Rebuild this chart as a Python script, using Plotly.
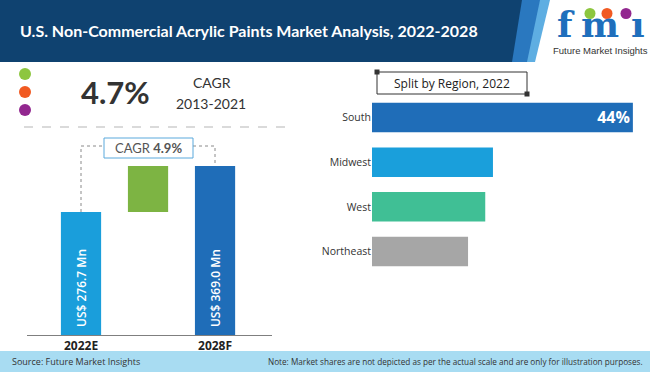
import plotly.graph_objects as go

# ---------------- data ----------------
years = ["2022E", "2028F"]
market_values = [276.7, 369.0]          # US$ Mn
value_labels = ["US$ 276.7 Mn", "US$ 369.0 Mn"]
cagr_forecast = "4.9%"
cagr_hist = "4.7%"
hist_period = "2013-2021"

regions = ["South", "Midwest", "West", "Northeast"]
region_shares = [44.0, 20.4, 19.1, 16.2]  # % (2022)
region_colors = ["#1f6db8", "#1a9fdb", "#40bf95", "#a6a6a6"]

title_text = "U.S. Non-Commercial Acrylic Paints Market Analysis, 2022-2028"
source_text = "Source: Future Market Insights"
note_text = ("Note: Market shares are not depicted as per the actual scale and are "
             "only for illustration purposes.")

# ---------------- helpers (pixel -> paper) ----------------
W, H = 650, 372
def px(x):
    return x / W
def py(y):
    return 1 - y / H

fig = go.Figure()

# left: market value bars
pos = [0, 2]
fig.add_trace(go.Bar(
    x=pos, y=market_values, width=0.6,
    marker=dict(color=["#1a9edb", "#1f6db8"], line=dict(width=0)),
    xaxis="x", yaxis="y", hoverinfo="skip", showlegend=False))
# incremental (green) bar between the two years
fig.add_trace(go.Bar(
    x=[1], y=[market_values[1] - market_values[0]], base=[market_values[0]],
    width=0.6, marker=dict(color="#7db443", line=dict(width=0)),
    xaxis="x", yaxis="y", hoverinfo="skip", showlegend=False))

# right: region split
fig.add_trace(go.Bar(
    y=regions, x=region_shares, orientation="h", width=0.66,
    marker=dict(color=region_colors, line=dict(width=0)),
    text=[f"{region_shares[0]:g}%"] + [""] * (len(regions) - 1),
    textposition="inside", insidetextanchor="end",
    textfont=dict(color="white", size=16, family="Open Sans", weight=700),
    xaxis="x2", yaxis="y2", hoverinfo="skip", showlegend=False))

shapes = []
# header band
shapes.append(dict(type="rect", xref="paper", yref="paper", x0=0, x1=1,
                   y0=py(62), y1=1, fillcolor="#0f4270", line=dict(width=0), layer="below"))
# blue stripes + white logo area
shapes.append(dict(type="path", xref="paper", yref="paper",
                   path=f"M {px(522)} {py(0)} L {px(541)} {py(0)} L {px(528)} {py(62)} L {px(512)} {py(62)} Z",
                   fillcolor="#2a78bf", line=dict(width=0), layer="below"))
shapes.append(dict(type="path", xref="paper", yref="paper",
                   path=f"M {px(540)} {py(0)} L {px(551)} {py(0)} L {px(536)} {py(62)} L {px(527)} {py(62)} Z",
                   fillcolor="#5eaee2", line=dict(width=0), layer="below"))
shapes.append(dict(type="path", xref="paper", yref="paper",
                   path=f"M {px(550)} {py(0)} L {px(650)} {py(0)} L {px(650)} {py(62)} L {px(535)} {py(62)} Z",
                   fillcolor="white", line=dict(width=0), layer="below"))
# footer band
shapes.append(dict(type="rect", xref="paper", yref="paper", x0=0, x1=1,
                   y0=0, y1=py(351), fillcolor="#a8dcf2", line=dict(width=0), layer="below"))
# legend-like dots
for cy, col in zip([74, 92, 110], ["#8dc63f", "#f15a22", "#92278f"]):
    shapes.append(dict(type="circle", xref="paper", yref="paper",
                       x0=px(19), x1=px(31), y0=py(cy + 6), y1=py(cy - 6),
                       fillcolor=col, line=dict(width=0)))
# dashed separator
shapes.append(dict(type="line", xref="paper", yref="paper", x0=px(24), x1=px(287),
                   y0=py(127), y1=py(127), line=dict(color="#b5b5b5", width=1, dash="dash")))
# dotted connector
dot = dict(color="#8a8a8a", width=1, dash="dot")
shapes.append(dict(type="path", xref="paper", yref="paper",
                   path=f"M {px(81)} {py(212)} L {px(81)} {py(146)} L {px(104)} {py(146)}",
                   line=dot))
shapes.append(dict(type="path", xref="paper", yref="paper",
                   path=f"M {px(193)} {py(146)} L {px(215)} {py(146)} L {px(215)} {py(166)}",
                   line=dot))
# CAGR box
shapes.append(dict(type="rect", xref="paper", yref="paper", x0=px(104), x1=px(193),
                   y0=py(158), y1=py(138), fillcolor="white",
                   line=dict(color="#5aa9dc", width=1)))
# Split by region box
shapes.append(dict(type="rect", xref="paper", yref="paper", x0=px(377), x1=px(527),
                   y0=py(94), y1=py(72), fillcolor="white",
                   line=dict(color="#333333", width=1)))
for cx, cy in [(377, 72), (527, 94)]:
    shapes.append(dict(type="rect", xref="paper", yref="paper",
                       x0=px(cx - 2.5), x1=px(cx + 2.5), y0=py(cy + 2.5), y1=py(cy - 2.5),
                       fillcolor="#333333", line=dict(width=0)))
# logo circles
for cx, col in zip([590, 607, 626], ["#8dc63f", "#f15a22", "#92278f"]):
    shapes.append(dict(type="circle", xref="paper", yref="paper",
                       x0=px(cx - 5.5), x1=px(cx + 5.5), y0=py(19), y1=py(8),
                       fillcolor=col, line=dict(width=0)))

ann = []
ann.append(dict(text=f"<b>{title_text}</b>", x=px(18), y=py(30), xref="paper", yref="paper",
                xanchor="left", yanchor="middle", showarrow=False,
                font=dict(family="Lato", size=16, color="white")))
# logo text (dotless i: the purple circle acts as its dot)
for ch, cx in zip(["f", "m", "\u0131"], [566, 600, 638]):
    ann.append(dict(text=f"<b>{ch}</b>", x=px(cx), y=py(47), xref="paper", yref="paper",
                    xanchor="center", yanchor="bottom", showarrow=False,
                    font=dict(family="DejaVu Serif", size=36, color="#1f6fbc")))
ann.append(dict(text="Future Market Insights", x=px(600), y=py(51), xref="paper", yref="paper",
                xanchor="center", yanchor="middle", showarrow=False,
                font=dict(family="Liberation Sans", size=9.5, color="#333333")))
# historical CAGR
ann.append(dict(text=f"<b>{cagr_hist}</b>", x=px(115), y=py(92), xref="paper", yref="paper",
                xanchor="center", yanchor="middle", showarrow=False,
                font=dict(family="Lato", size=31, color="#333333")))
ann.append(dict(text="CAGR", x=px(212), y=py(82), xref="paper", yref="paper",
                xanchor="center", yanchor="middle", showarrow=False,
                font=dict(family="Lato", size=14, color="#333333")))
ann.append(dict(text=hist_period, x=px(211), y=py(104), xref="paper", yref="paper",
                xanchor="center", yanchor="middle", showarrow=False,
                font=dict(family="Lato", size=14, color="#333333")))
ann.append(dict(text=f"CAGR <b>{cagr_forecast}</b>", x=px(148.5), y=py(148), xref="paper", yref="paper",
                xanchor="center", yanchor="middle", showarrow=False,
                font=dict(family="Lato", size=13, color="#555555")))
# rotated value labels
for p, lab in zip(pos, value_labels):
    ann.append(dict(text=lab, x=p, y=py(288), xref="x", yref="paper",
                    xanchor="center", yanchor="middle", showarrow=False, textangle=-90,
                    font=dict(family="Open Sans", size=12, color="white", weight=600)))
ann.append(dict(text="Split by Region, 2022", x=px(452), y=py(83), xref="paper", yref="paper",
                xanchor="center", yanchor="middle", showarrow=False,
                font=dict(family="Open Sans", size=12, color="#222222")))
# footer
ann.append(dict(text=source_text, x=px(10), y=py(361.5), xref="paper", yref="paper",
                xanchor="left", yanchor="middle", showarrow=False,
                font=dict(family="Open Sans", size=9, color="#333333")))
ann.append(dict(text=note_text, x=px(645), y=py(361.5), xref="paper", yref="paper",
                xanchor="right", yanchor="middle", showarrow=False,
                font=dict(family="Open Sans", size=8.2, color="#333333")))

fig.update_layout(
    width=W, height=H, margin=dict(l=0, r=0, t=0, b=0),
    paper_bgcolor="white", plot_bgcolor="rgba(0,0,0,0)",
    barmode="overlay", showlegend=False,
    shapes=shapes, annotations=ann,
    xaxis=dict(domain=[px(27), px(272)], range=[-0.806, 2.85],
               tickvals=pos, ticktext=[f"<b>{y}</b>" for y in years],
               tickfont=dict(family="Open Sans", size=12, color="#222222"),
               showline=True, linecolor="#7f7f7f", linewidth=1, ticks="",
               showgrid=False, zeroline=False, fixedrange=True),
    yaxis=dict(domain=[py(335), py(140)], range=[30, 421.4], visible=False,
               fixedrange=True),
    xaxis2=dict(domain=[px(372), px(640)], range=[0, 45.2], visible=False,
                anchor="y2", fixedrange=True),
    yaxis2=dict(domain=[py(273.9), py(95.1)], anchor="x2", autorange="reversed",
                categoryorder="array", categoryarray=regions,
                tickfont=dict(family="Open Sans", size=10.5, color="#333333"),
                ticks="", showline=False, showgrid=False, zeroline=False,
                fixedrange=True),
)

fig.write_html("out.html", config={"displayModeBar": False},
               post_script="document.body.style.margin='0';document.body.style.overflow='hidden';")
